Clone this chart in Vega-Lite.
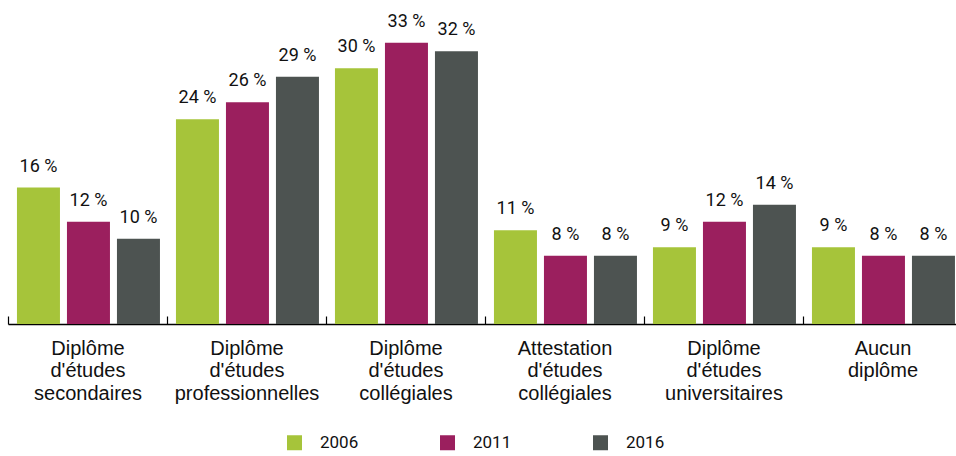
{
  "$schema": "https://vega.github.io/schema/vega-lite/v6.json",
  "autosize": {"type": "none"},
  "width": 954,
  "height": 324,
  "padding": {"left": 8, "top": 0, "right": 0, "bottom": 132},
  "background": "white",
  "config": {"view": {"stroke": null}, "font": "Liberation Sans"},
  "data": {"values": [
    {"cat": "Diplôme\nd'études\nsecondaires", "year": "2006", "v": 16},
    {"cat": "Diplôme\nd'études\nsecondaires", "year": "2011", "v": 12},
    {"cat": "Diplôme\nd'études\nsecondaires", "year": "2016", "v": 10},
    {"cat": "Diplôme\nd'études\nprofessionnelles", "year": "2006", "v": 24},
    {"cat": "Diplôme\nd'études\nprofessionnelles", "year": "2011", "v": 26},
    {"cat": "Diplôme\nd'études\nprofessionnelles", "year": "2016", "v": 29},
    {"cat": "Diplôme\nd'études\ncollégiales", "year": "2006", "v": 30},
    {"cat": "Diplôme\nd'études\ncollégiales", "year": "2011", "v": 33},
    {"cat": "Diplôme\nd'études\ncollégiales", "year": "2016", "v": 32},
    {"cat": "Attestation\nd'études\ncollégiales", "year": "2006", "v": 11},
    {"cat": "Attestation\nd'études\ncollégiales", "year": "2011", "v": 8},
    {"cat": "Attestation\nd'études\ncollégiales", "year": "2016", "v": 8},
    {"cat": "Diplôme\nd'études\nuniversitaires", "year": "2006", "v": 9},
    {"cat": "Diplôme\nd'études\nuniversitaires", "year": "2011", "v": 12},
    {"cat": "Diplôme\nd'études\nuniversitaires", "year": "2016", "v": 14},
    {"cat": "Aucun\ndiplôme", "year": "2006", "v": 9},
    {"cat": "Aucun\ndiplôme", "year": "2011", "v": 8},
    {"cat": "Aucun\ndiplôme", "year": "2016", "v": 8}
  ]},
  "encoding": {
    "x": {"field": "cat", "type": "nominal", "sort": null,
      "scale": {"paddingInner": 0, "paddingOuter": 0},
      "axis": {"title": null, "labelAngle": 0, "labelExpr": "split(datum.label, '\\n')",
        "labelFontSize": 20, "labelColor": "#111", "labelLineHeight": 22.5, "labelPadding": 22,
        "labelBaseline": "top", "labelLimit": 0,
        "tickBand": "extent", "tickSize": -8, "tickColor": "#000", "tickWidth": 1.2,
        "domainColor": "#000", "domainWidth": 1.5}},
    "xOffset": {"field": "year", "type": "nominal", "scale": {"paddingInner": 0.14, "paddingOuter": 0.16, "align": 0.56}},
    "y": {"field": "v", "type": "quantitative", "scale": {"domain": [0, 38]}, "axis": null}
  },
  "layer": [
    {"mark": {"type": "bar"},
     "encoding": {"color": {"field": "year", "type": "nominal",
       "scale": {"domain": ["2006", "2011", "2016"], "range": ["#a6c43a", "#9b1f5e", "#4d5351"]},
       "legend": {"title": null, "orient": "none", "legendX": 278, "legendY": 434, "direction": "horizontal",
         "symbolType": "square", "symbolSize": 225, "symbolStrokeWidth": 0, "labelFontSize": 17, "labelFont": "Roboto",
         "labelColor": "#111", "labelOffset": 17, "columnPadding": 80}}}},
    {"transform": [{"calculate": "datum.v + ' %'", "as": "lbl"}],
     "mark": {"type": "text", "baseline": "alphabetic", "dy": -16, "fontSize": 18, "font": "Roboto", "color": "#111"},
     "encoding": {"text": {"field": "lbl"}}}
  ]
}
